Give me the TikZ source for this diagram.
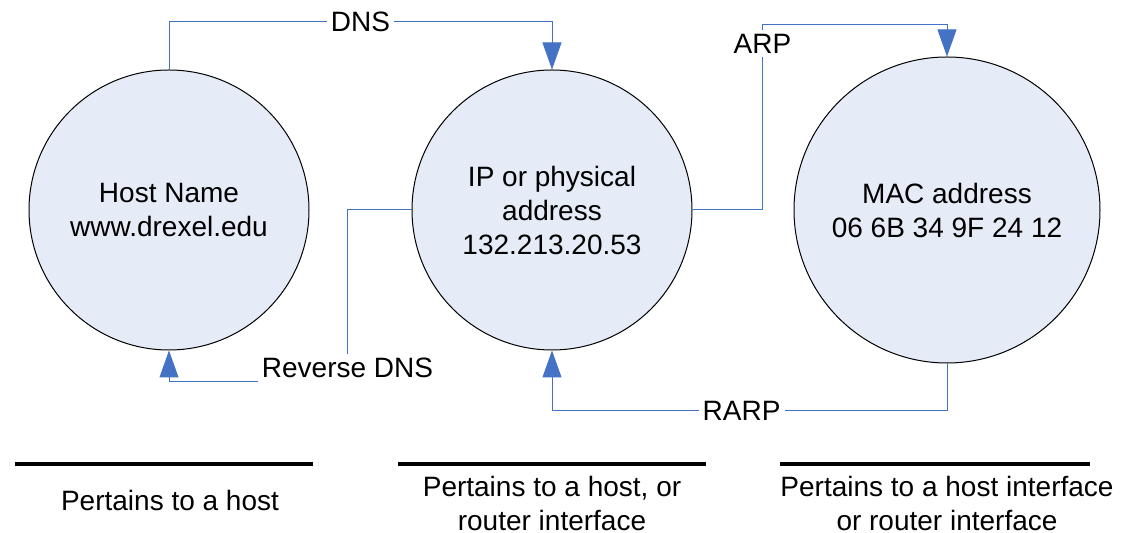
\documentclass[tikz,border=0pt]{standalone}
\usepackage{fontspec}
\setmainfont{Liberation Sans}
\usepackage{tikz}
\usetikzlibrary{arrows.meta}

\definecolor{circfill}{RGB}{230,236,247}
\definecolor{linkblue}{RGB}{68,114,196}

\tikzset{
  addr/.style={circle, draw=black, line width=0.5pt, fill=circfill, inner sep=0pt, align=center},
  link/.style={draw=linkblue, line width=0.5pt, -{Triangle[width=9.5pt,length=13.5pt]}},
  lbl/.style={fill=white, inner sep=2pt},
  rulebar/.style={line width=2pt, black}
}

\begin{document}
\begin{tikzpicture}[x=0.5pt, y=-0.5pt, font=\fontsize{14}{17}\selectfont]
  \useasboundingbox (0,0) rectangle (1121,533);
%% the three kinds of address
  \node[addr, minimum size=140pt] (host) at (169,210) {Host Name\\www.drexel.edu};
  \node[addr, minimum size=140pt] (ip) at (552,210) {IP or physical\\address\\132.213.20.53};
  \node[addr, minimum size=153pt] (mac) at (947,210) {MAC address\\06 6B 34 9F 24 12};

%% translations between them
  \draw[link] (host.north) -- ++(0,-48) -| node[lbl, pos=0.25] (dnslbl) {DNS} (ip.north);
  \draw[link] (ip.west) -- ++(-64,0) -- node[lbl, pos=0.92] (rdnslbl) {Reverse DNS} ++(0,172) -| (host.south);
  \draw[link] (ip.east) -- ++(70,0) -- node[lbl, pos=0.9] (arplbl) {ARP} ++(0,-185) -| (mac.north);
  \draw[link] (mac.south) -- ++(0,47) -| node[lbl, pos=0.26] (rarplbl) {RARP} (ip.south);

%% what each one belongs to
  \draw[rulebar] (15,464) -- (313,464);
  \draw[rulebar] (398,464) -- (706,464);
  \draw[rulebar] (780,464) -- (1090,464);
  \node (hostnote) at (170,500) {Pertains to a host};
  \node[align=center] (ipnote) at (552,503) {Pertains to a host, or\\router interface};
  \node[align=center] (macnote) at (947,503) {Pertains to a host interface\\or router interface};
\end{tikzpicture}
\end{document}
